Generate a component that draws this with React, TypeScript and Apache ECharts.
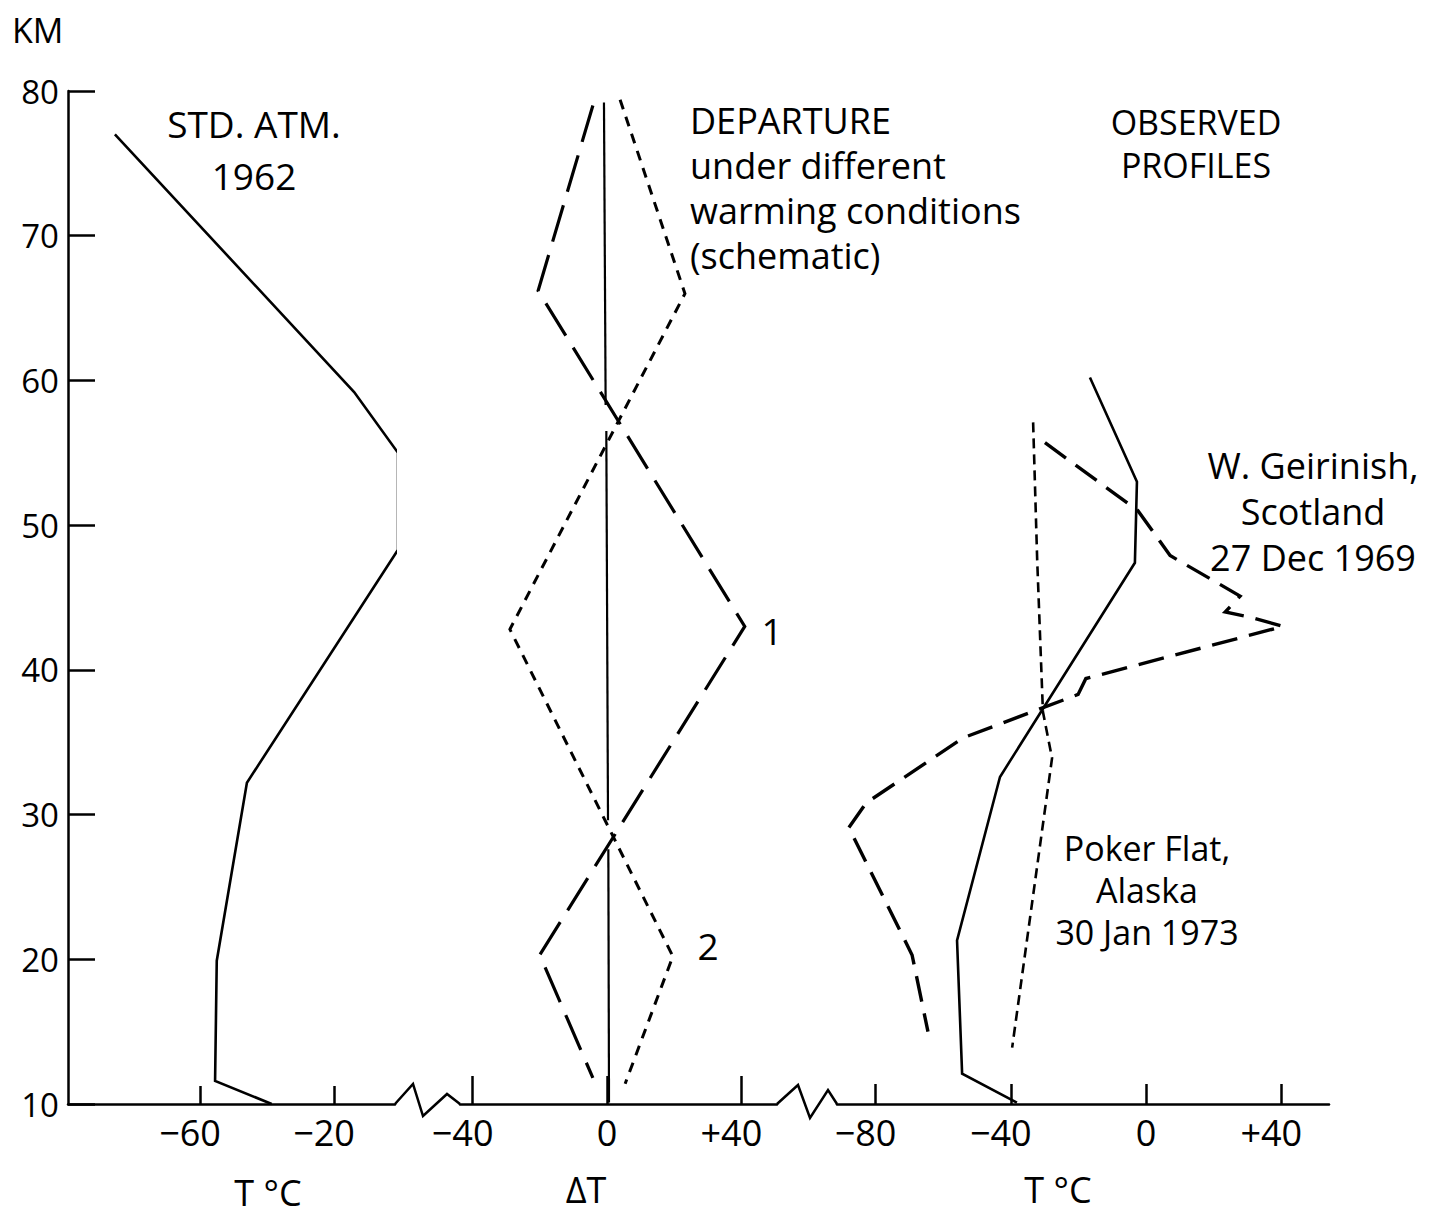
import React, { useEffect, useRef } from "react";
import * as echarts from "echarts";

// ---------- DATA ----------
// Left panel: Standard Atmosphere 1962  (T °C vs km)
const stdAtmT = [-85.4, -14.0, -0.9, -0.9, -46.0, -55.0, -55.5, -38.6];
const stdAtmKm = [77.0, 59.2, 55.0, 48.3, 32.2, 19.9, 11.6, 10.0];

// Middle panel: departure ΔT (schematic)
const baseTopT = [-0.9, -0.4];
const baseTopKm = [79.2, 58.3];
const baseMidT = [-0.2, 0.3];
const baseMidKm = [56.5, 29.6];
const baseLowT = [0.4, 0.6];
const baseLowKm = [27.6, 10.1];

const departure1T = [-4.2, -20.5, 41.0, -20.0, -4.2];
const departure1Km = [79.0, 66.2, 43.0, 20.3, 11.8];

const departure2T = [3.9, 23.2, -28.9, 19.6, 5.4];
const departure2Km = [79.4, 66.0, 42.8, 20.2, 11.4];

// Right panel: observed profiles
const obsSolidT = [-16.6, -2.7, -3.3, -43.2, -55.9, -54.4, -38.2];
const obsSolidKm = [60.2, 53.0, 47.4, 32.6, 21.3, 12.1, 10.1];

const scotlandT = [-29.9, -2.4, 7.1, 27.8, 23.4, 31.5, 40.5, -17.8, -20.1, -54.1, -82.8, -87.9, -69.2, -64.5];
const scotlandKm = [55.7, 51.0, 47.9, 45.1, 44.0, 43.6, 43.0, 39.4, 38.3, 35.3, 30.8, 29.1, 20.3, 15.0];

const pokerFlatT = [-33.4, -32.2, -30.5, -27.8, -39.6];
const pokerFlatKm = [57.1, 47.6, 37.1, 33.9, 13.9];

// Axis ticks
const kmTicks = [10, 20, 30, 40, 50, 60, 70, 80];
const leftTicks = [-60, -20];
const midTicks = [-40, 0, 40];
const rightTicks = [-80, -40, 0, 40];

// ---------- HELPERS ----------
const FONT = "Open Sans";
const zip = (xs: number[], ys: number[]) => xs.map((x, i) => [x, ys[i]]);

const signed = (plus: boolean) => (v: number) => {
  if (v === 0) return "0";
  const s = v < 0 ? "\u2212" + Math.abs(v) : (plus ? "+" : "") + v;
  return "{s|" + s + "}";
};

const xAxisBase = (grid: number, min: number, max: number, ticks: number[], tickLen: number, plus: boolean) => ({
  gridIndex: grid,
  type: "value",
  min,
  max,
  position: "bottom",
  axisLine: { show: true, lineStyle: { color: "#000", width: 2.5 } },
  axisTick: { show: true, inside: true, length: tickLen, customValues: ticks, lineStyle: { color: "#000", width: 2.5 } },
  axisLabel: {
    show: true,
    customValues: ticks,
    formatter: signed(plus),
    color: "#000",
    fontFamily: FONT,
    fontSize: 36,
    lineHeight: 36,
    margin: 10,
    rich: { s: { fontFamily: FONT, fontSize: 36, lineHeight: 36, color: "#000", padding: [0, 20, 0, 0] } },
  },
  splitLine: { show: false },
});

const yAxisBase = (grid: number, show: boolean) => ({
  gridIndex: grid,
  type: "value",
  min: 10,
  max: 80,
  interval: 10,
  show,
  axisLine: { show: true, lineStyle: { color: "#000", width: 2.5 } },
  axisTick: { show: true, inside: true, length: 27, customValues: kmTicks, lineStyle: { color: "#000", width: 2.5 } },
  axisLabel: { show: true, color: "#000", fontFamily: FONT, fontSize: 33, margin: 9 },
  splitLine: { show: false },
});

const lineSeries = (xi: number, data: number[][], width: number, type: any) => ({
  type: "line",
  xAxisIndex: xi,
  yAxisIndex: xi,
  data,
  symbol: "none",
  clip: false,
  silent: true,
  lineStyle: { color: "#000", width, type, cap: "butt", join: "miter" },
});

const txt = (text: string, x: number, y: number, align: string, size = 37, lineHeight = 0) => ({
  type: "text",
  x,
  y,
  silent: true,
  style: {
    text,
    fill: "#000",
    font: `${size}px "${FONT}"`,
    lineHeight: lineHeight || Math.round(size * 0.95),
    align,
    verticalAlign: "middle",
  },
});

const zig = (pts: number[][]) => ({
  type: "polyline",
  silent: true,
  shape: { points: pts },
  style: { stroke: "#000", lineWidth: 2.5, fill: "none", lineJoin: "miter" },
});

export default function App() {
  const ref = useRef<HTMLDivElement>(null);
  useEffect(() => {
    if (!ref.current) return;
    const chart = echarts.init(ref.current, null, { renderer: "svg" });
    const option: any = {
      animation: false,
      backgroundColor: "#fff",
      grid: [
        { left: 68, top: 91, width: 327, height: 1013, outerBoundsMode: "none" },
        { left: 460, top: 91, width: 317, height: 1013, outerBoundsMode: "none" },
        { left: 837, top: 91, width: 492, height: 1013, outerBoundsMode: "none" },
      ],
      xAxis: [
        xAxisBase(0, -99.4, -1.8, leftTicks, 18, false),
        xAxisBase(1, -43.75, 50.6, midTicks, 28, true),
        xAxisBase(2, -91.4, 54.1, rightTicks, 20, true),
      ],
      yAxis: [yAxisBase(0, true), yAxisBase(1, false), yAxisBase(2, false)],
      series: [
        lineSeries(0, zip(stdAtmT, stdAtmKm), 2.6, "solid"),
        lineSeries(1, zip(baseTopT, baseTopKm), 2.2, "solid"),
        lineSeries(1, zip(baseMidT, baseMidKm), 2.2, "solid"),
        lineSeries(1, zip(baseLowT, baseLowKm), 2.2, "solid"),
        lineSeries(1, zip(departure1T, departure1Km), 3.2, [38, 14]),
        lineSeries(1, zip(departure2T, departure2Km), 3, [10, 8]),
        lineSeries(2, zip(obsSolidT, obsSolidKm), 2.6, "solid"),
        lineSeries(2, zip(scotlandT, scotlandKm), 3.4, [26, 12]),
        lineSeries(2, zip(pokerFlatT, pokerFlatKm), 2.6, [10, 6]),
      ],
      graphic: [
        zig([[395, 1104], [413, 1084], [423, 1116], [447, 1094], [460, 1104]]),
        zig([[777, 1104], [798, 1085], [810, 1118], [828, 1090], [837, 1104]]),
        txt("KM", 12, 30, "left", 34),
        txt("STD. ATM.\n1962", 254, 149, "center", 37, 52),
        txt("DEPARTURE\nunder different\nwarming conditions\n(schematic)", 690, 188, "left", 36, 45),
        txt("OBSERVED\nPROFILES", 1196, 143, "center", 34, 43),
        txt("W. Geirinish,\nScotland\n27 Dec 1969", 1313, 511, "center", 36, 46),
        txt("1", 772, 630, "center"),
        txt("2", 708, 945, "center"),
        txt("Poker Flat,\nAlaska\n30 Jan 1973", 1147, 890, "center", 34, 42),
        txt("T \u00B0C", 268, 1192, "center", 36),
        txt("\u0394T", 586, 1189, "center", 36),
        txt("T \u00B0C", 1058, 1189, "center", 36),
      ],
    };
    chart.setOption(option);
    return () => chart.dispose();
  }, []);
  return (
    <div
      ref={ref}
      style={{ position: "absolute", left: 0, top: 0, width: 1439, height: 1215, background: "#fff" }}
    />
  );
}
